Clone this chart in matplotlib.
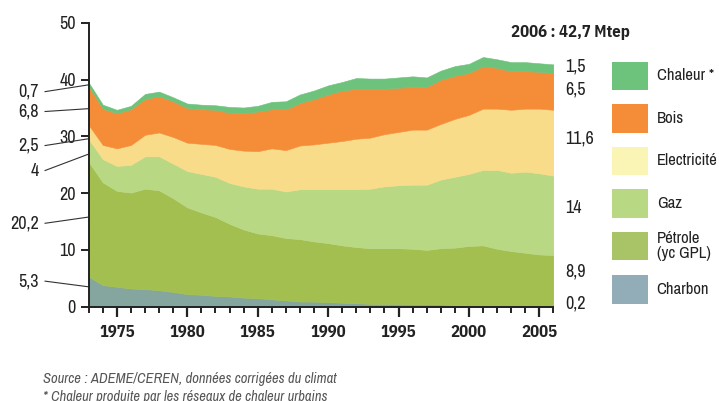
import numpy as np
import matplotlib.pyplot as plt
from matplotlib.patches import Rectangle

plt.rcParams['font.family'] = ['Archivo Narrow', 'Liberation Sans', 'DejaVu Sans']
bold_font = ['IBM Plex Sans Condensed', 'Fira Sans Condensed', 'Liberation Sans', 'DejaVu Sans']

# data (Mtep)
years = list(range(1973, 2007))
charbon = [5.3, 3.8, 3.5, 3.2, 3.1, 2.9, 2.6, 2.2, 2.1, 1.9, 1.8, 1.6, 1.5, 1.3, 1.1, 0.9, 0.9,
           0.8, 0.7, 0.6, 0.5, 0.5, 0.5, 0.4, 0.4, 0.4, 0.3, 0.2, 0.2, 0.2, 0.2, 0.1, 0.1, 0.2]
petrole = [20.2, 18.1, 16.9, 16.9, 17.7, 17.6, 16.5, 15.3, 14.5, 13.9, 12.8, 12.0, 11.4, 11.3,
           11.0, 11.0, 10.6, 10.4, 10.1, 9.9, 9.8, 9.8, 9.8, 9.8, 9.6, 9.9, 10.1, 10.5, 10.6,
           10.0, 9.6, 9.4, 9.1, 8.9]
gaz = [4.0, 4.1, 4.4, 4.9, 5.7, 6.0, 6.1, 6.4, 6.8, 7.1, 7.2, 7.6, 7.9, 8.2, 8.2, 8.8, 9.2,
       9.5, 9.9, 10.2, 10.5, 10.9, 11.1, 11.3, 11.5, 12.1, 12.5, 12.7, 13.3, 13.9, 13.8, 14.3,
       14.3, 14.0]
electricite = [2.5, 2.5, 3.1, 3.5, 3.8, 4.2, 4.7, 5.0, 5.3, 5.6, 6.0, 6.3, 6.6, 7.1, 7.3, 7.7,
               7.9, 8.2, 8.5, 8.9, 9.0, 9.2, 9.4, 9.7, 9.7, 9.8, 10.2, 10.4, 10.8, 10.8, 11.1,
               11.1, 11.4, 11.6]
bois = [6.8, 6.4, 6.2, 6.3, 6.3, 6.4, 6.3, 6.1, 6.1, 6.2, 6.4, 6.6, 7.0, 6.9, 7.2, 7.5, 8.0,
        8.5, 8.9, 8.8, 8.6, 8.0, 7.8, 7.5, 7.5, 7.8, 7.6, 7.4, 7.5, 7.2, 6.8, 6.6, 6.5, 6.5]
chaleur = [0.7, 0.7, 0.6, 0.6, 0.9, 0.8, 0.7, 0.8, 0.8, 0.8, 1.0, 1.0, 1.0, 1.3, 1.4, 1.5, 1.5,
           1.6, 1.5, 1.9, 1.8, 1.8, 1.8, 1.9, 1.7, 1.6, 1.7, 1.6, 1.6, 1.5, 1.6, 1.6, 1.5, 1.5]

series = [charbon, petrole, gaz, electricite, bois, chaleur]
names = ['Charbon', 'Pétrole\n(yc GPL)', 'Gaz', 'Electricité', 'Bois', 'Chaleur *']
colors = ['#84a69e', '#a3bf4f', '#b9d884', '#f8dc8a', '#f58d38', '#6dc27c']
legend_colors = ['#93adb8', '#a8c466', '#b9d884', '#faf5b4', '#f58d38', '#6dc27c']

# where the side labels sit (data units)
left_text_y = [4.5, 14.7, 24.0, 28.4, 34.4, 37.9]
left_line_end = [3.5, 15.8, 26.9, 29.6, 34.9, 39.1]
right_text_y = [0.5, 6.2, 17.4, 29.7, 38.2, 42.35]


def fmt(v):
    return f'{v:g}'.replace('.', ',')


fig = plt.figure(figsize=(7.19, 4.01), dpi=100)
ax = fig.add_axes([0.1234, 0.2352, 0.6463, 0.7075])

polys = ax.stackplot(years, *series, colors=colors, linewidth=0.4)
for p, c in zip(polys, colors):
    p.set_edgecolor(c)

ax.set_xlim(1973, 2006)
ax.set_ylim(0, 50)
for s in ['top', 'right']:
    ax.spines[s].set_visible(False)
for s in ['left', 'bottom']:
    ax.spines[s].set_linewidth(1.4)
    ax.spines[s].set_color('#222222')

ax.set_xticks(range(1975, 2006, 5))
ax.set_xticks(years, minor=True)
ax.set_yticks(range(0, 51, 10))
ax.tick_params(axis='x', which='major', length=7.5, width=1.6, pad=6, color='#222222')
ax.tick_params(axis='x', which='minor', length=4.5, width=1.4, color='#222222')
ax.tick_params(axis='y', length=5.8, width=1.4, pad=3.5, color='#222222', labelsize=13,
               labelcolor='#222222')
for t in ax.get_xticklabels():
    t.set_family(bold_font)
    t.set_fontweight('bold')
    t.set_fontsize(12)
    t.set_color('#222222')

# values at both ends
for s, ty, ly in zip(series, left_text_y, left_line_end):
    ax.text(1969.45, ty, fmt(s[0]), ha='right', va='center', fontsize=13, color='#222222',
            clip_on=False)
    ax.plot([1969.9, 1973], [ty, ly], color='#333333', lw=0.8, clip_on=False)
for s, ty in zip(series, right_text_y):
    ax.text(2006.85, ty, fmt(s[-1]), ha='left', va='center', fontsize=13, color='#222222',
            clip_on=False)

fig.text(0.793, 0.918, '2006 : 42,7 Mtep', ha='center', va='center', fontsize=12,
         fontweight='bold', family=bold_font, color='#222222')

# legend boxes
tops = [275, 231.7, 189.3, 146.7, 104, 61.7]
for name, c, top in zip(names, legend_colors, tops):
    fig.patches.append(Rectangle((611.7 / 719, 1 - (top + 28.5) / 401), 36 / 719, 28.5 / 401,
                                 transform=fig.transFigure, facecolor=c, edgecolor='none'))
    fig.text(656.7 / 719, 1 - (top + 14.2) / 401, name, ha='left', va='center', fontsize=12,
             color='#222222', linespacing=1.0)

fig.text(0.0598, 0.0549, 'Source : ADEME/CEREN, données corrigées du climat', fontsize=10.5,
         style='italic', color='#555555', va='center')
fig.text(0.0598, 0.0108, '* Chaleur produite par les réseaux de chaleur urbains', fontsize=10.5,
         style='italic', color='#555555', va='center')

fig.savefig('out.png', dpi=100)
